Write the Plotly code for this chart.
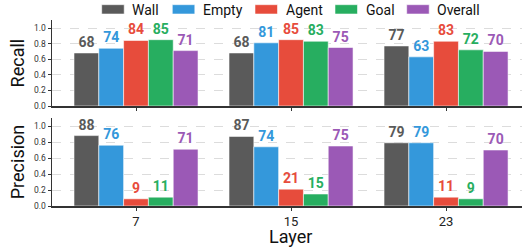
import plotly.graph_objects as go
from plotly.subplots import make_subplots

# ---- data ----
layers = ["7", "15", "23"]
series = ["Wall", "Empty", "Agent", "Goal", "Overall"]
recall = {
    "Wall":    [68, 68, 77],
    "Empty":   [74, 81, 63],
    "Agent":   [84, 85, 83],
    "Goal":    [85, 83, 72],
    "Overall": [71, 75, 70],
}
precision = {
    "Wall":    [88, 87, 79],
    "Empty":   [76, 74, 79],
    "Agent":   [9, 21, 11],
    "Goal":    [11, 15, 9],
    "Overall": [71, 75, 70],
}
y_ticks = [0.0, 0.2, 0.4, 0.6, 0.8, 1.0]

# ---- style ----
colors = {
    "Wall": "#5a5a5a",
    "Empty": "#3498db",
    "Agent": "#e74c3c",
    "Goal": "#27ae60",
    "Overall": "#9b59b6",
}
FONT = "Roboto"
W, H = 522, 248
ML, MB = 52, 42
PW, PH = W - ML, H - MB


def py(p):  # pixel y -> paper y
    return (PH - p) / PH


def px(p):  # pixel x -> paper x
    return (p - ML) / PW


fig = make_subplots(rows=2, cols=1, shared_xaxes=False, vertical_spacing=0.05)

for row, data in ((1, recall), (2, precision)):
    for s in series:
        vals = data[s]
        fig.add_trace(
            go.Bar(
                x=layers,
                y=[v / 100 for v in vals],
                text=[str(v) for v in vals],
                texttemplate="%{text}",
                textposition="outside",
                textfont=dict(family=FONT, size=14, color=colors[s], weight="bold"),
                constraintext="none",
                cliponaxis=False,
                marker=dict(color=colors[s], line=dict(color="rgba(255,255,255,0.55)", width=1)),
                name=s,
                showlegend=False,
                hoverinfo="skip",
            ),
            row=row,
            col=1,
        )

axis_common = dict(
    showline=True,
    linecolor="#333333",
    linewidth=1.5,
    ticks="outside",
    ticklen=3,
    tickcolor="#333333",
    zeroline=False,
)

xrange = [-0.542, 2.49]
fig.update_xaxes(
    type="category",
    range=xrange,
    domain=[0, 1],
    showgrid=False,
    tickfont=dict(family=FONT, size=13, color="#222222"),
    **axis_common,
)
fig.update_xaxes(showticklabels=False, row=1, col=1)

yax = dict(
    range=[0, 1.1],
    tickvals=y_ticks,
    ticktext=[f"{v:.1f}" for v in y_ticks],
    showgrid=True,
    gridcolor="#dcdcdc",
    griddash="dash",
    gridwidth=1,
    tickfont=dict(family=FONT, size=8.5, color="#333333"),
    **axis_common,
)
fig.update_yaxes(
    domain=[py(106), py(106 - 1.1 * 78)],
    title=dict(text="Recall", font=dict(family=FONT, size=18, color="#111111"), standoff=4),
    row=1,
    col=1,
    **yax,
)
fig.update_yaxes(
    domain=[py(206), py(206 - 1.1 * 80)],
    title=dict(text="Precision", font=dict(family=FONT, size=18, color="#111111"), standoff=4),
    row=2,
    col=1,
    **yax,
)

# x-axis title as annotation (precise placement)
fig.add_annotation(
    xref="paper",
    yref="paper",
    x=px(290.5),
    y=py(236),
    text="Layer",
    showarrow=False,
    xanchor="center",
    yanchor="middle",
    font=dict(family=FONT, size=18, color="#111111"),
)

# ---- manual legend (wide swatches) ----
legend_x = [101.7, 172.3, 255, 335, 406.7]
sw_w, sw_top, sw_bot = 22.5, 4.7, 14.0
for s, x0 in zip(series, legend_x):
    fig.add_shape(
        type="rect",
        xref="paper",
        yref="paper",
        x0=px(x0),
        x1=px(x0 + sw_w),
        y0=py(sw_bot),
        y1=py(sw_top),
        fillcolor=colors[s],
        line=dict(color="rgba(255,255,255,0.55)", width=1),
    )
    fig.add_annotation(
        xref="paper",
        yref="paper",
        x=px(x0 + 28.5),
        y=py(9.6),
        text=s,
        showarrow=False,
        xanchor="left",
        yanchor="middle",
        font=dict(family=FONT, size=14, color="#111111"),
    )

fig.update_layout(
    width=W,
    height=H,
    barmode="group",
    bargap=0.2,
    bargroupgap=0,
    plot_bgcolor="white",
    paper_bgcolor="white",
    margin=dict(l=ML, r=0, t=0, b=MB, autoexpand=False),
    font=dict(family=FONT),
)

fig.write_html(
    "out.html",
    config={"displayModeBar": False, "staticPlot": True},
    post_script="document.body.style.margin='0';document.body.style.overflow='hidden';",
)
